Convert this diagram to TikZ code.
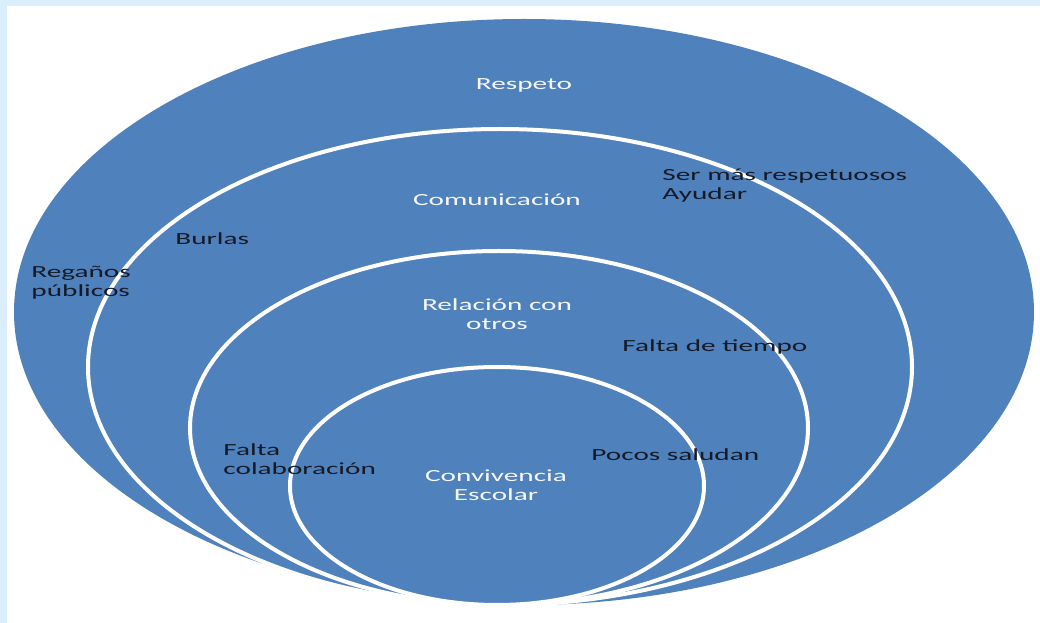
\documentclass[tikz,border=0pt]{standalone}
\usepackage{fontspec}
\setmainfont{Carlito}
\usepackage{tikz}
\usetikzlibrary{shapes.geometric, positioning}
\usepackage{xcolor}

\definecolor{frameblue}{RGB}{218,238,252}
\definecolor{ringblue}{RGB}{79,129,189}
\definecolor{darktext}{RGB}{22,26,38}

\begin{document}
\begin{tikzpicture}[x=0.75pt, y=-0.75pt,
        ring/.style={draw=white, line width=3pt, fill=ringblue, ellipse, inner sep=0pt},
        inlabel/.style={text=white!94!ringblue, font=\fontsize{12.75}{14.3}\selectfont, align=center, inner sep=0pt, xscale=1.72},
        outlabel/.style={text=darktext, font=\fontsize{12.75}{14.3}\selectfont, align=left, anchor=west, inner sep=0pt, xscale=1.72}
    ]

        % Frame
        \fill[frameblue] (0,0) rectangle (1040,623);
        \fill[white] (7,6) rectangle (1040,623);
        \useasboundingbox (0,0) rectangle (1040,623);

        % Rings
        \node[ring, draw=none, minimum width=1020*0.75pt, minimum height=586*0.75pt] (respeto) at (524,312) {};
        \node[ring, minimum width=824*0.75pt, minimum height=476*0.75pt] (comunicacion) at (500,367) {};
        \node[ring, minimum width=618*0.75pt, minimum height=354*0.75pt] (relacion) at (499,428) {};
        \node[ring, minimum width=414*0.75pt, minimum height=238*0.75pt] (convivencia) at (497,486) {};

        % Ring titles
        \node[inlabel] (t-respeto) at (524,85) {Respeto};
        \node[inlabel] (t-comunicacion) at (497,200) {Comunicación};
        \node[inlabel] (t-relacion) at (497,314) {Relación con\\otros};
        \node[inlabel] (t-convivencia) at (496,485) {Convivencia\\Escolar};

        % Notes
        \node[outlabel] (respetuosos) at (662,186) {Ser más respetuosos\\Ayudar};
        \node[outlabel] (burlas) at (175,239) {Burlas};
        \node[outlabel] (reganos) at (31,283) {Regaños\\públicos};
        \node[outlabel] (tiempo) at (622,347) {Falta de tiempo};
        \node[outlabel] (colaboracion) at (223,459) {Falta\\colaboración};
        \node[outlabel] (saludan) at (591,455) {Pocos saludan};

    \end{tikzpicture}
\end{document}
